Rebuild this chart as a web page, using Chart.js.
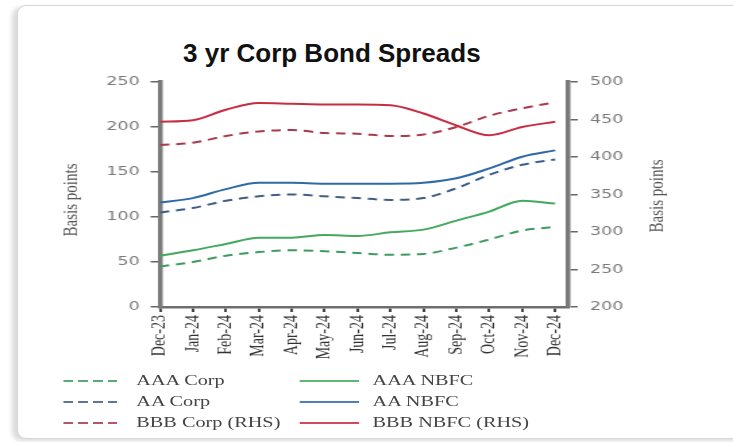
<!DOCTYPE html>
<html>
<head>
<meta charset="utf-8">
<script src="https://cdn.jsdelivr.net/npm/chart.js@4.4.1/dist/chart.umd.min.js"></script>
<style>
  html, body { margin: 0; padding: 0; background: #fff; }
  body { width: 733px; height: 442px; position: relative; overflow: hidden; }
  .card {
    position: absolute; left: 17px; top: 5px; width: 740px; height: 432px;
    border: 1px solid #d6d6d6; border-radius: 9px; background: #fff;
    box-shadow: -5px 2px 4px rgba(0,0,0,0.14);
  }
  .title {
    position: absolute; left: 183px; top: 40px; white-space: nowrap;
    font: bold 26px/26px "Liberation Sans", Arial, sans-serif; color: #111;
  }
  /* the original chart image is stretched sideways, so the chart is too */
  .stretch {
    position: absolute; left: 0; top: 0; width: 543px; height: 442px;
    transform: scaleX(1.35); transform-origin: 0 0;
  }
  #chart { position: absolute; left: 0; top: 0; }
  .legend-item { position: absolute; height: 18px; white-space: nowrap; }
  .legend-item .swatch { position: absolute; left: 0; top: 8px; width: 44px; height: 2px; opacity: 0.85; }
  .legend-item span {
    position: absolute; top: 0; line-height: 18px;
    font: 15px "Liberation Serif", serif; color: #444;
  }
</style>
</head>
<body>
<div class="card"></div>
<div class="title">3 yr Corp Bond Spreads</div>
<div class="stretch">
  <canvas id="chart" width="543" height="370"></canvas>
  <div id="legend"></div>
</div>
<script>
const months = ['Dec-23', 'Jan-24', 'Feb-24', 'Mar-24', 'Apr-24', 'May-24', 'Jun-24',
  'Jul-24', 'Aug-24', 'Sep-24', 'Oct-24', 'Nov-24', 'Dec-24'];

// left axis (basis points)
const aaaCorp = [45, 50, 57, 61, 63, 62, 60, 58, 59, 66, 75, 85, 89];
const aaaNbfc = [57, 63, 70, 77, 77, 80, 79, 83, 86, 96, 106, 118, 115];
const aaCorp = [105, 110, 118, 123, 125, 123, 121, 119, 121, 132, 147, 158, 164];
const aaNbfc = [116, 121, 131, 138, 138, 137, 137, 137, 138, 143, 154, 167, 174];
// right axis (basis points)
const bbbCorp = [416, 419, 428, 434, 436, 432, 431, 428, 430, 440, 455, 465, 473];
const bbbNbfc = [447, 449, 463, 472, 471, 470, 470, 469, 458, 442, 429, 440, 447];

const leftTicks = [0, 50, 100, 150, 200, 250];
const rightTicks = [200, 250, 300, 350, 400, 450, 500];

function pts(arr) {
  return arr.map((v, i) => ({ x: i, y: v }));
}

function line(label, arr, color, dashed, axis) {
  return {
    label: label,
    data: pts(arr),
    borderColor: color,
    borderWidth: 2,
    borderDash: dashed ? [7, 5] : [],
    pointRadius: 0,
    cubicInterpolationMode: 'monotone',
    fill: false,
    yAxisID: axis
  };
}

const datasets = [
  line('AAA Corp', aaaCorp, '#3f9a62', true, 'y'),
  line('AAA NBFC', aaaNbfc, '#43a95e', false, 'y'),
  line('AA Corp', aaCorp, '#3d5f86', true, 'y'),
  line('AA NBFC', aaNbfc, '#2f6aa6', false, 'y'),
  line('BBB Corp (RHS)', bbbCorp, '#a8394f', true, 'y1'),
  line('BBB NBFC (RHS)', bbbNbfc, '#c72c41', false, 'y1')
];

// both "Basis points" titles read bottom to top
const axisTitles = {
  id: 'axisTitles',
  afterDraw(chart) {
    const ctx = chart.ctx;
    const a = chart.chartArea;
    ctx.save();
    ctx.font = '15px "Liberation Serif", serif';
    ctx.fillStyle = '#555';
    ctx.textAlign = 'center';
    ctx.textBaseline = 'middle';
    [[a.left - 65, 200], [a.right + 66, 196]].forEach(p => {
      ctx.save();
      ctx.translate(p[0], p[1]);
      ctx.rotate(-Math.PI / 2);
      ctx.fillText('Basis points', 0, 0);
      ctx.restore();
    });
    ctx.restore();
  }
};

const tickFont = { family: "'DejaVu Sans', sans-serif", size: 13 };

const chart = new Chart(document.getElementById('chart'), {
  type: 'line',
  data: { datasets: datasets },
  options: {
    responsive: false,
    animation: false,
    layout: { padding: { left: 20, right: 42, top: 82, bottom: 0 } },
    plugins: { legend: { display: false }, tooltip: { enabled: false } },
    scales: {
      x: {
        type: 'linear',
        min: 0,
        max: 12.4,
        afterBuildTicks: s => { s.ticks = months.map((m, i) => ({ value: i })); },
        afterFit: s => { s.height = 63; },
        ticks: {
          autoSkip: false,
          maxRotation: 90,
          minRotation: 90,
          padding: 3,
          color: '#333',
          font: { family: "'Liberation Serif', serif", size: 14 },
          callback: v => months[v]
        },
        grid: { drawOnChartArea: false, tickLength: 5, color: '#444', lineWidth: 2 },
        border: { color: '#6e6e6e', width: 2.5 }
      },
      y: {
        position: 'left',
        min: 0,
        max: 250,
        afterBuildTicks: s => { s.ticks = leftTicks.map(v => ({ value: v })); },
        afterFit: s => { s.width = 98.5; },
        ticks: { padding: 8, color: '#7a7a7a', font: tickFont },
        grid: { drawOnChartArea: false, tickLength: 7, color: '#666', lineWidth: 1.5 },
        border: { color: '#7a7a7a', width: 3.5 }
      },
      y1: {
        position: 'right',
        min: 200,
        max: 500,
        afterBuildTicks: s => { s.ticks = rightTicks.map(v => ({ value: v })); },
        afterFit: s => { s.width = 80; },
        ticks: { padding: 9, color: '#7a7a7a', font: tickFont },
        grid: { drawOnChartArea: false, tickLength: 7, color: '#666', lineWidth: 1.5 },
        border: { color: '#7a7a7a', width: 3.5 }
      }
    }
  },
  plugins: [axisTitles]
});

// two-column legend under the chart
const legend = document.getElementById('legend');
const colX = [47, 222];
const rowY = [372, 393, 414];
chart.data.datasets.forEach((ds, i) => {
  const item = document.createElement('div');
  item.className = 'legend-item';
  item.style.left = colX[i % 2] + 'px';
  item.style.top = rowY[Math.floor(i / 2)] + 'px';
  const sw = document.createElement('div');
  sw.className = 'swatch';
  sw.style.background = ds.borderDash.length
    ? 'repeating-linear-gradient(to right, ' + ds.borderColor + ' 0 7px, transparent 7px 11px)'
    : ds.borderColor;
  const txt = document.createElement('span');
  txt.style.left = '54px';
  txt.textContent = ds.label;
  item.appendChild(sw);
  item.appendChild(txt);
  legend.appendChild(item);
});
</script>
</body>
</html>
